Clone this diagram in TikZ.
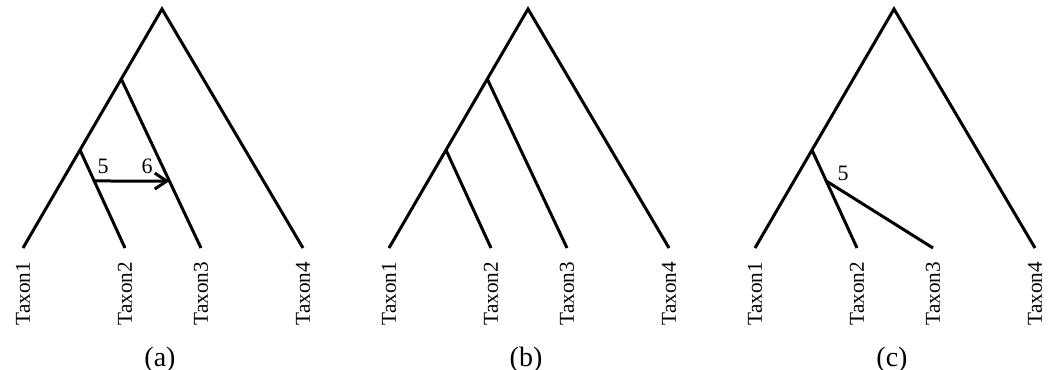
\documentclass[tikz,border=0pt]{standalone}
\usepackage{fontspec}
\setmainfont{Liberation Serif}
\usetikzlibrary{arrows.meta,calc}

\tikzset{
  branch/.style={line width=1.5pt, line join=miter},
  transfer/.style={line width=1.5pt, -{Straight Barb[length=6pt,width=8pt]}},
  taxon/.style={rotate=90, anchor=east, inner sep=0pt, font=\fontsize{10.6}{12}\selectfont},
  num/.style={inner sep=0pt, font=\fontsize{11}{13}\selectfont},
  caption/.style={anchor=base, inner sep=0pt, font=\fontsize{14}{16}\selectfont}
}

\begin{document}
\begin{tikzpicture}[x=0.5pt, y=-0.5pt]
  \useasboundingbox (0,0) rectangle (1058,369);

  % (a) tree with transfer 5 -> 6
  \begin{scope}
    \coordinate (rootA) at (162,9);
    \coordinate (leafA1) at (23,248);
    \coordinate (leafA2) at (125,248);
    \coordinate (leafA3) at (201,248);
    \coordinate (leafA4) at (303,248);
    \coordinate (innA) at ($(rootA)!0.293!(leafA1)$);
    \coordinate (subA) at ($(rootA)!0.59!(leafA1)$);
    \draw[branch] (leafA1) -- (rootA) -- (leafA4);
    \draw[branch] (innA) -- (leafA3);
    \draw[branch] (subA) -- (leafA2);
    \coordinate (fromA) at ($(subA)!0.316!(leafA2)$);
    \coordinate (toA) at ($(innA)!0.604!(leafA3)$);
    \draw[transfer] (fromA) -- (toA);
    \node[num] (fiveA) at (103,166) {5};
    \node[num] (sixA) at (147,166) {6};
    \node[taxon] (taxA1) at ($(leafA1)+(0,13.5)$) {Taxon1};
    \node[taxon] (taxA2) at ($(leafA2)+(0,13.5)$) {Taxon2};
    \node[taxon] (taxA3) at ($(leafA3)+(0,13.5)$) {Taxon3};
    \node[taxon] (taxA4) at ($(leafA4)+(0,13.5)$) {Taxon4};
    \node[caption] (capA) at (160,366) {(a)};
  \end{scope}

  % (b) species tree
  \begin{scope}[shift={(366,0)}]
    \coordinate (rootB) at (162,9);
    \coordinate (leafB1) at (23,248);
    \coordinate (leafB2) at (125,248);
    \coordinate (leafB3) at (201,248);
    \coordinate (leafB4) at (303,248);
    \coordinate (innB) at ($(rootB)!0.293!(leafB1)$);
    \coordinate (subB) at ($(rootB)!0.59!(leafB1)$);
    \draw[branch] (leafB1) -- (rootB) -- (leafB4);
    \draw[branch] (innB) -- (leafB3);
    \draw[branch] (subB) -- (leafB2);
    \node[taxon] (taxB1) at ($(leafB1)+(0,13.5)$) {Taxon1};
    \node[taxon] (taxB2) at ($(leafB2)+(0,13.5)$) {Taxon2};
    \node[taxon] (taxB3) at ($(leafB3)+(0,13.5)$) {Taxon3};
    \node[taxon] (taxB4) at ($(leafB4)+(0,13.5)$) {Taxon4};
    \node[caption] (capB) at (160,366) {(b)};
  \end{scope}

  % (c) Taxon3 regrafted at 5
  \begin{scope}[shift={(732,0)}]
    \coordinate (rootC) at (162,9);
    \coordinate (leafC1) at (23,248);
    \coordinate (leafC2) at (125,248);
    \coordinate (leafC3) at (201,248);
    \coordinate (leafC4) at (303,248);
    \coordinate (subC) at ($(rootC)!0.59!(leafC1)$);
    \draw[branch] (leafC1) -- (rootC) -- (leafC4);
    \draw[branch] (subC) -- (leafC2);
    \coordinate (graftC) at ($(subC)!0.316!(leafC2)$);
    \draw[branch] (graftC) -- (leafC3);
    \node[num] (fiveC) at (111,173) {5};
    \node[taxon] (taxC1) at ($(leafC1)+(0,13.5)$) {Taxon1};
    \node[taxon] (taxC2) at ($(leafC2)+(0,13.5)$) {Taxon2};
    \node[taxon] (taxC3) at ($(leafC3)+(0,13.5)$) {Taxon3};
    \node[taxon] (taxC4) at ($(leafC4)+(0,13.5)$) {Taxon4};
    \node[caption] (capC) at (160,366) {(c)};
  \end{scope}
\end{tikzpicture}
\end{document}
